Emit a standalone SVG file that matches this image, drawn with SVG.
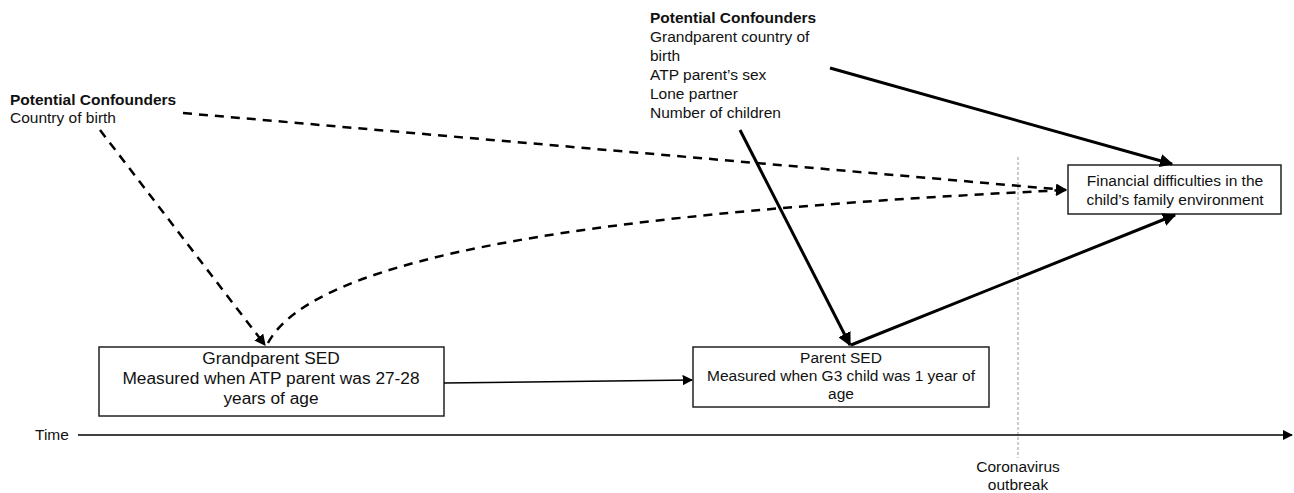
<svg xmlns="http://www.w3.org/2000/svg" width="1294" height="493" viewBox="0 0 1294 493">
<style>
text{font-family:"Liberation Sans",Arial,sans-serif;font-size:15.5px;fill:#111}
.b{font-weight:bold}
.c{text-anchor:middle}
.g{font-size:17.3px}
.box{fill:#fff;stroke:#222;stroke-width:1.5}
.dash{fill:none;stroke:#000;stroke-width:2.5;stroke-dasharray:9,7}
.solid{fill:none;stroke:#000;stroke-width:3}
.thin{fill:none;stroke:#000;stroke-width:1.5}
</style>
<defs>
<marker id="ah" viewBox="0 0 10 10" refX="9" refY="5" markerWidth="4.5" markerHeight="4.5" markerUnits="strokeWidth" orient="auto"><path d="M0,0L10,5L0,10z" fill="#000"/></marker>
<marker id="ahs" viewBox="0 0 10 10" refX="9" refY="5" markerWidth="7" markerHeight="7" markerUnits="strokeWidth" orient="auto"><path d="M0,0L10,5L0,10z" fill="#000"/></marker>
</defs>
<rect width="1294" height="493" fill="#fff"/>
<line x1="1018" y1="157" x2="1018" y2="458" stroke="#999" stroke-width="1" stroke-dasharray="3,2"/>
<g id="confounders-left">
<text x="10" y="105" class="b">Potential Confounders</text>
<text x="10" y="123">Country of birth</text>
</g>
<g id="confounders-top">
<text x="650" y="23" class="b">Potential Confounders</text>
<text x="650" y="42">Grandparent country of</text>
<text x="650" y="61">birth</text>
<text x="650" y="80">ATP parent’s sex</text>
<text x="650" y="99">Lone partner</text>
<text x="650" y="118">Number of children</text>
</g>
<g id="grandparent">
<rect class="box" x="99" y="347" width="345" height="69"/>
<text x="271" y="364" class="c g">Grandparent SED</text>
<text x="271" y="384" class="c g">Measured when ATP parent was 27-28</text>
<text x="271" y="404" class="c g">years of age</text>
</g>
<g id="parent">
<rect class="box" x="693" y="347" width="296" height="60"/>
<text x="841" y="363" class="c">Parent SED</text>
<text x="841" y="381" class="c">Measured when G3 child was 1 year of</text>
<text x="841" y="399" class="c">age</text>
</g>
<g id="financial">
<rect class="box" x="1068" y="165" width="213" height="49"/>
<text x="1175" y="186" class="c">Financial difficulties in the</text>
<text x="1175" y="205" class="c">child’s family environment</text>
</g>
<g id="time">
<text x="35" y="440">Time</text>
<text x="1018" y="472" class="c">Coronavirus</text>
<text x="1018" y="490" class="c">outbreak</text>
</g>
<g id="connectors">
<path class="dash" d="M183,113 L1066,190" marker-end="url(#ah)"/>
<path class="dash" d="M100,130 L265,345" marker-end="url(#ah)"/>
<path class="dash" d="M268,343 C315,255 600,212 1066,190" marker-end="url(#ah)"/>
<path class="solid" d="M740,130 L850,345" marker-end="url(#ah)"/>
<path class="solid" d="M851,345 L1175,215" marker-end="url(#ah)"/>
<path class="solid" d="M830,68 L1172,164" marker-end="url(#ah)"/>
<path class="thin" d="M444,383 L692,380" marker-end="url(#ahs)"/>
<path class="thin" d="M78,435 L1292,435" marker-end="url(#ahs)"/>
</g>
</svg>
